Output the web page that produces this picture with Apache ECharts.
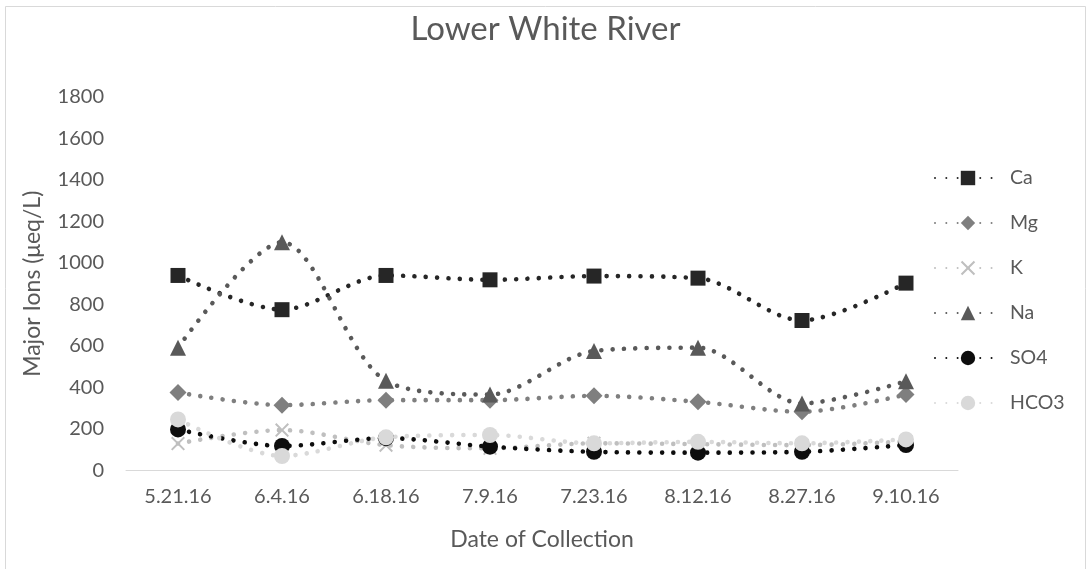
<!DOCTYPE html>
<html>
<head>
<meta charset="utf-8">
<script src="https://cdn.jsdelivr.net/npm/echarts@6/dist/echarts.min.js"></script>
<style>
  html, body { margin: 0; padding: 0; background: #fff; }
  #chart { width: 1091px; height: 569px; }
</style>
</head>
<body>
<div id="chart"></div>
<script>
// Collection dates
const dates = ['5.21.16', '6.4.16', '6.18.16', '7.9.16', '7.23.16', '8.12.16', '8.27.16', '9.10.16'];

// Major ion concentrations (µeq/L)
const ca   = [940, 775, 940, 919, 937, 927, 723, 903];
const mg   = [376, 315, 339, 339, 360, 331, 283, 366];
const k    = [130, 195, 122, 107, 131, 127, 122, 140];
const na   = [592, 1100, 432, 366, 576, 592, 323, 430];
const so4  = [198, 118, 156, 115, 90, 86, 90, 123];
const hco3 = [246, 70, 160, 171, 131, 138, 131, 150];

const yTicks = { min: 0, max: 1800, interval: 200 };

const textColor = '#595959';
const fontFamily = 'Lato, "Open Sans", sans-serif';

// X-shaped marker drawn as a filled outline
const crossPath = 'path://M0,1 L1,0 L5,4 L9,0 L10,1 L6,5 L10,9 L9,10 L5,6 L1,10 L0,9 L4,5 Z';

function ionSeries(name, data, color, symbol, size) {
  return {
    name: name,
    type: 'line',
    data: data,
    smooth: 0.3,
    symbol: symbol,
    symbolSize: size,
    showSymbol: true,
    itemStyle: { color: color },
    lineStyle: { color: color, width: 4.6, type: [0.01, 11.3], cap: 'round' },
    emphasis: { disabled: true }
  };
}

const chart = echarts.init(document.getElementById('chart'), null, { renderer: 'canvas' });

chart.setOption({
  animation: false,
  backgroundColor: '#ffffff',
  title: {
    text: 'Lower White River',
    left: 'center',
    top: 8,
    textStyle: { color: textColor, fontSize: 33, fontWeight: 'normal', fontFamily: fontFamily }
  },
  graphic: [{
    type: 'rect',
    shape: { x: 5.5, y: 6.5, width: 1080, height: 600 },
    style: { fill: 'none', stroke: '#d9d9d9', lineWidth: 1 },
    silent: true
  }],
  grid: { left: 126, right: 133, top: 97, bottom: 98.5, containLabel: false },
  legend: {
    orient: 'vertical',
    left: 929,
    top: 163,
    itemWidth: 66,
    itemHeight: 18,
    itemGap: 25,
    textStyle: { color: textColor, fontSize: 19.5, fontFamily: fontFamily, padding: [0, 0, 0, 4] },
    data: ['Ca', 'Mg', 'K', 'Na', 'SO4', 'HCO3']
  },
  xAxis: {
    type: 'category',
    data: dates,
    boundaryGap: true,
    axisLine: { lineStyle: { color: '#d9d9d9', width: 1 } },
    axisTick: { show: false },
    axisLabel: { color: textColor, fontSize: 20, fontFamily: fontFamily, margin: 16 },
    name: 'Date of Collection',
    nameLocation: 'middle',
    nameGap: 58,
    nameTextStyle: { color: textColor, fontSize: 23, fontFamily: fontFamily }
  },
  yAxis: {
    type: 'value',
    min: yTicks.min,
    max: yTicks.max,
    interval: yTicks.interval,
    splitLine: { show: false },
    axisLine: { show: false },
    axisTick: { show: false },
    axisLabel: {
      color: textColor, fontSize: 20, fontFamily: fontFamily, margin: 22,
      formatter: function (v) { return String(v); }
    },
    name: 'Major Ions (μeq/L)',
    nameLocation: 'middle',
    nameGap: 82,
    nameTextStyle: { color: textColor, fontSize: 23, fontFamily: fontFamily }
  },
  series: [
    ionSeries('Ca', ca, '#262626', 'rect', 15),
    ionSeries('Mg', mg, '#7f7f7f', 'diamond', 17),
    ionSeries('K', k, '#bfbfbf', crossPath, 14),
    ionSeries('Na', na, '#595959', 'triangle', 16),
    ionSeries('SO4', so4, '#0d0d0d', 'circle', 16),
    ionSeries('HCO3', hco3, '#d9d9d9', 'circle', 16)
  ]
});
</script>
</body>
</html>
